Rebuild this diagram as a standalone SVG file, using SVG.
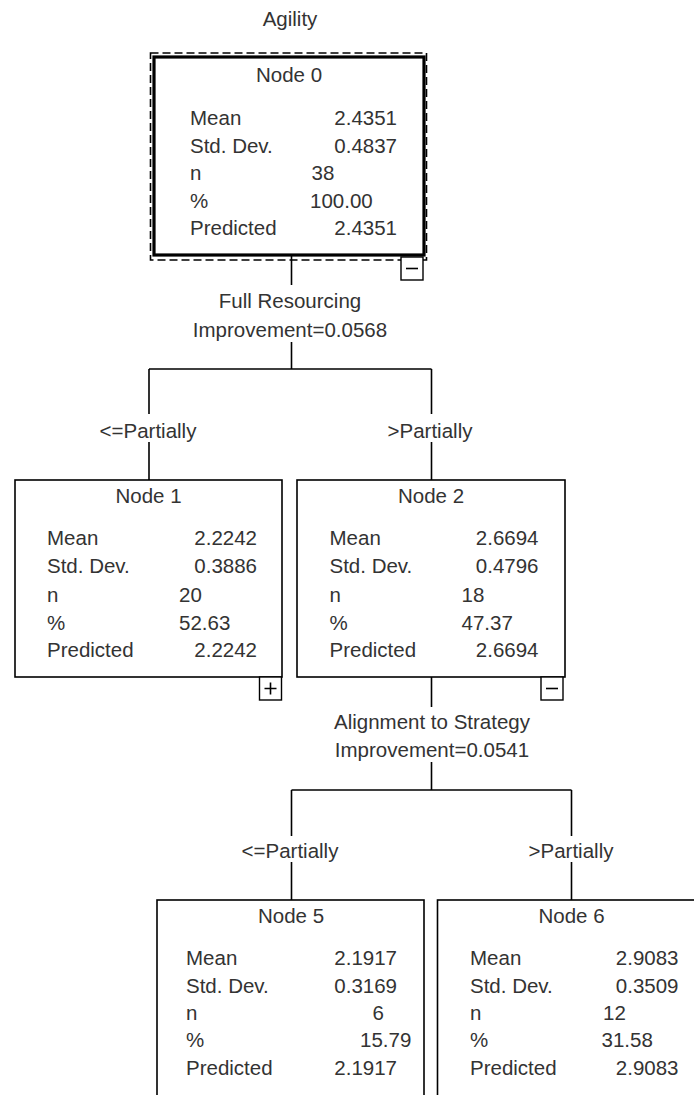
<svg xmlns="http://www.w3.org/2000/svg" width="694" height="1095" viewBox="0 0 694 1095">
<style>
text{font-family:"Liberation Sans",Arial,sans-serif;font-size:20.5px;fill:#333}
.c{text-anchor:middle}
.r{text-anchor:end}
.box{fill:#fff;stroke:#000;stroke-width:1.6}
.thick{fill:#fff;stroke:#000;stroke-width:3.2}
.dash{fill:none;stroke:#000;stroke-width:1.6;stroke-dasharray:8 4}
.ln{fill:none;stroke:#000;stroke-width:1.6}
.tog{fill:#fff;stroke:#000;stroke-width:1.4}
</style>
<rect width="694" height="1095" fill="#fff"/>
<text class="c" x="290" y="26">Agility</text>
<g id="connectors">
<path class="ln" d="M291.5 256V285M291.5 342V369M149 369H431.5M149 369V414M431.5 369V414M149 442V480M431.5 442V480"/>
<path class="ln" d="M431.5 677V707M431.5 762V790M291.5 790H571.5M291.5 790V836M571.5 790V836M291.5 862V900M571.5 862V900"/>
<text class="c" x="290" y="308">Full Resourcing</text>
<text class="c" x="290" y="337">Improvement=0.0568</text>
<text class="c" x="148" y="438">&lt;=Partially</text>
<text class="c" x="430" y="438">&gt;Partially</text>
<text class="c" x="432" y="729">Alignment to Strategy</text>
<text class="c" x="432" y="757">Improvement=0.0541</text>
<text class="c" x="290" y="858">&lt;=Partially</text>
<text class="c" x="571" y="858">&gt;Partially</text>
</g>
<g id="node0">
<rect class="thick" x="154" y="57" width="270" height="198"/>
<rect class="dash" x="150.5" y="53" width="276" height="207"/>
<rect class="tog" x="401" y="257" width="22" height="23"/>
<path class="ln" d="M406 268.5H418"/>
<text class="c" x="289" y="82">Node 0</text>
<text x="190" y="125">Mean</text><text class="r" x="397" y="125">2.4351</text>
<text x="190" y="153">Std. Dev.</text><text class="r" x="397" y="153">0.4837</text>
<text x="190" y="180">n</text><text x="311.5" y="180">38</text>
<text x="190" y="208">%</text><text x="310" y="208">100.00</text>
<text x="190" y="235">Predicted</text><text class="r" x="397" y="235">2.4351</text>
</g>
<g id="node1">
<rect class="box" x="15" y="480" width="267" height="197"/>
<rect class="tog" x="259.5" y="677" width="22" height="23"/>
<path class="ln" d="M264.5 688.5H276.5M270.5 682.5V694.5"/>
<text class="c" x="148.5" y="503">Node 1</text>
<text x="47" y="545">Mean</text><text class="r" x="257" y="545">2.2242</text>
<text x="47" y="573">Std. Dev.</text><text class="r" x="257" y="573">0.3886</text>
<text x="47" y="602">n</text><text x="179" y="602">20</text>
<text x="47" y="630">%</text><text x="179" y="630">52.63</text>
<text x="47" y="657">Predicted</text><text class="r" x="257" y="657">2.2242</text>
</g>
<g id="node2">
<rect class="box" x="297" y="480" width="268" height="197"/>
<rect class="tog" x="541" y="677" width="22" height="23"/>
<path class="ln" d="M546 688.5H558"/>
<text class="c" x="431" y="503">Node 2</text>
<text x="329.5" y="545">Mean</text><text class="r" x="538.5" y="545">2.6694</text>
<text x="329.5" y="573">Std. Dev.</text><text class="r" x="538.5" y="573">0.4796</text>
<text x="329.5" y="602">n</text><text x="461.5" y="602">18</text>
<text x="329.5" y="630">%</text><text x="461.5" y="630">47.37</text>
<text x="329.5" y="657">Predicted</text><text class="r" x="538.5" y="657">2.6694</text>
</g>
<g id="node5">
<rect class="box" x="157" y="900" width="267" height="220"/>
<text class="c" x="291" y="923">Node 5</text>
<text x="186" y="965">Mean</text><text class="r" x="397" y="965">2.1917</text>
<text x="186" y="993">Std. Dev.</text><text class="r" x="397" y="993">0.3169</text>
<text x="186" y="1020">n</text><text x="372.5" y="1020">6</text>
<text x="186" y="1047">%</text><text x="360" y="1047">15.79</text>
<text x="186" y="1075">Predicted</text><text class="r" x="397" y="1075">2.1917</text>
</g>
<g id="node6">
<rect class="box" x="437.5" y="900" width="270" height="220"/>
<text class="c" x="571.5" y="923">Node 6</text>
<text x="470" y="965">Mean</text><text class="r" x="678.5" y="965">2.9083</text>
<text x="470" y="993">Std. Dev.</text><text class="r" x="678.5" y="993">0.3509</text>
<text x="470" y="1020">n</text><text x="603" y="1020">12</text>
<text x="470" y="1047">%</text><text x="601.5" y="1047">31.58</text>
<text x="470" y="1075">Predicted</text><text class="r" x="678.5" y="1075">2.9083</text>
</g>
</svg>
